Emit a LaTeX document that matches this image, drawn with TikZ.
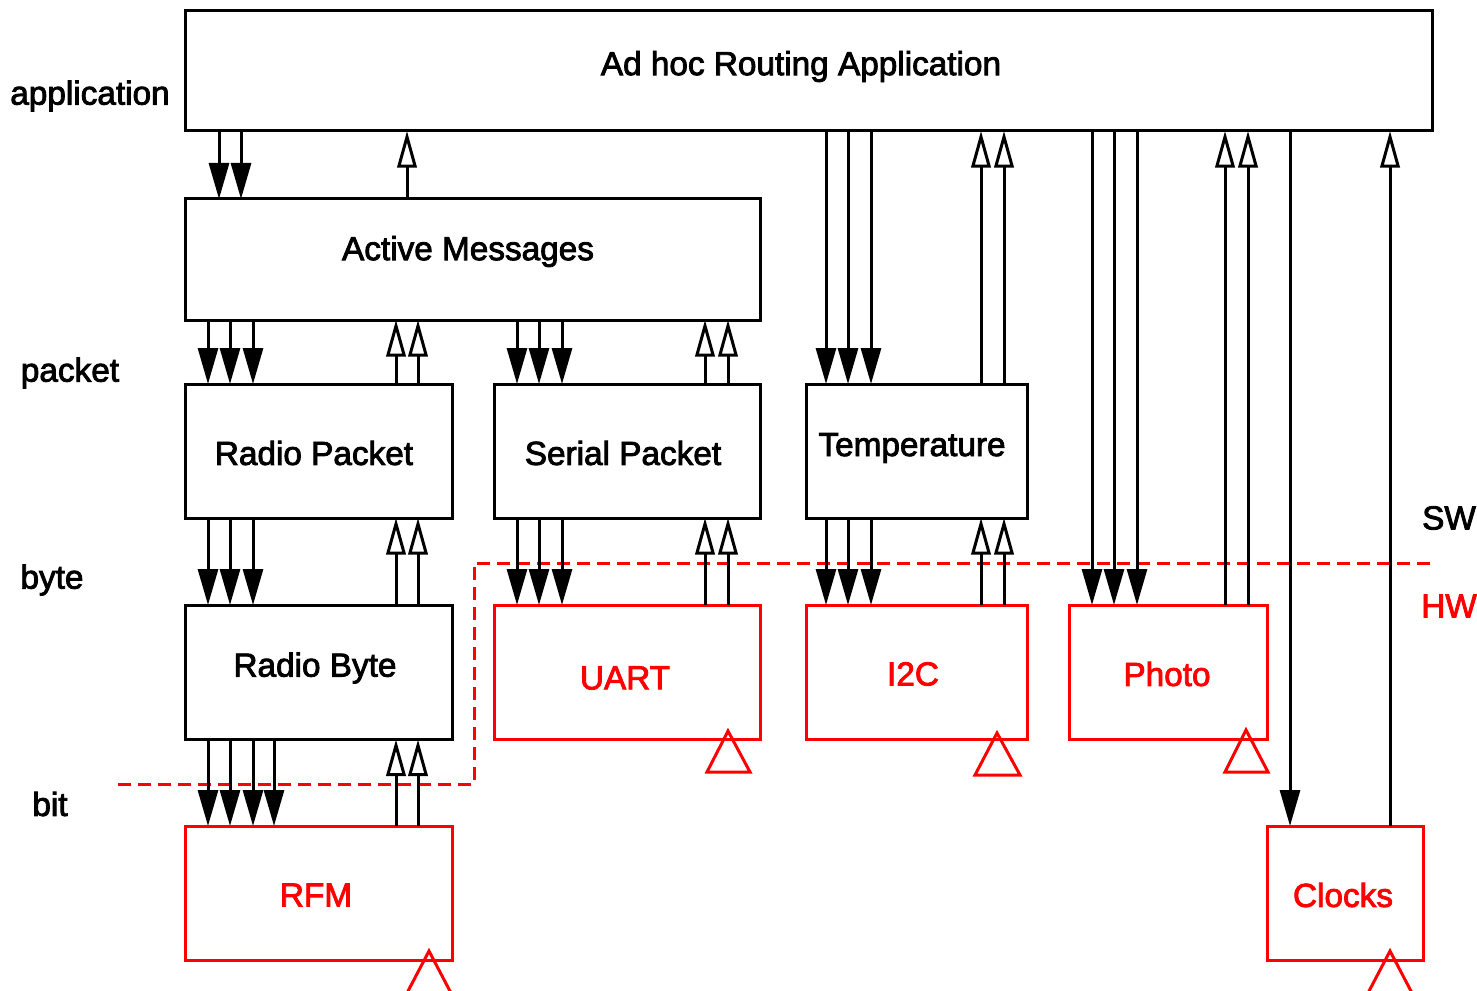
\documentclass[tikz,border=0pt]{standalone}
\usepackage{fontspec}
\setmainfont[FakeBold=2.5]{Liberation Sans}
\usetikzlibrary{arrows.meta,fit}
\definecolor{hwred}{RGB}{255,0,0}
\tikzset{
  x=0.75pt,y=-0.75pt,
  swbox/.style={draw=black,line width=2.25pt,inner sep=0pt,outer sep=0pt,rectangle},
  hwbox/.style={draw=hwred,line width=2.25pt,inner sep=0pt,outer sep=0pt,rectangle},
  swtext/.style={text=black,font=\fontsize{25pt}{28pt}\selectfont,inner sep=0pt},
  hwtext/.style={text=hwred,font=\fontsize{25pt}{28pt}\selectfont,inner sep=0pt},
  dnarrow/.style={draw=black,line width=2.25pt,-{Triangle[length=27pt,width=15pt,fill=black]}},
  uparrow/.style={draw=black,line width=2.25pt,-{Triangle[length=27.5pt,width=14.5pt,fill=white]}},
  clocktri/.style={draw=hwred,line width=2.25pt,line join=miter},
  hwline/.style={draw=hwred,line width=2.25pt,dash pattern=on 10pt off 5pt},
}
\newcommand{\dnlink}[3]{\foreach \xx in {#3} {\draw[dnarrow] (\xx,0 |- #1.south) -- (\xx,0 |- #2.north);}}
\newcommand{\uplink}[3]{\foreach \xx in {#3} {\draw[uparrow] (\xx,0 |- #1.north) -- (\xx,0 |- #2.south);}}
\begin{document}
\begin{tikzpicture}
\useasboundingbox[fill=white] (0,0) rectangle (1477,991);
% boxes
\node[swbox,fit={(185,11)(1432.5,131)}] (app) {};
\node[swbox,fit={(185,199)(760.5,320)}] (am) {};
\node[swbox,fit={(185,384)(452,518)}] (rp) {};
\node[swbox,fit={(494,384)(760.5,518)}] (sp) {};
\node[swbox,fit={(806,384)(1027.5,518)}] (temp) {};
\node[swbox,fit={(185,605)(452,739.5)}] (rb) {};
\node[hwbox,fit={(494,605)(760.5,739)}] (uart) {};
\node[hwbox,fit={(806,605)(1027.5,739)}] (i2c) {};
\node[hwbox,fit={(1069,605)(1267.5,739)}] (photo) {};
\node[hwbox,fit={(185,826)(452,960)}] (rfm) {};
\node[hwbox,fit={(1267,826)(1423.5,960)}] (clocks) {};
% labels
\node[swtext] (tapp) at (801,66.5) {Ad hoc Routing Application};
\node[swtext] (tam) at (468,251.5) {Active Messages};
\node[swtext] (trp) at (314,453) {Radio Packet};
\node[swtext] (tsp) at (623,453) {Serial Packet};
\node[swtext] (ttemp) at (912,448) {Temperature};
\node[swtext] (trb) at (315,668) {Radio Byte};
\node[hwtext] (tuart) at (625,678) {UART};
\node[hwtext] (ti2c) at (913,674) {I2C};
\node[hwtext] (tphoto) at (1167,674) {Photo};
\node[hwtext] (trfm) at (316,895) {RFM};
\node[hwtext] (tclocks) at (1343,895) {Clocks};
\node[swtext] (lapp) at (90,96) {application};
\node[swtext] (lpacket) at (70,373) {packet};
\node[swtext] (lbyte) at (52,580) {byte};
\node[swtext] (lbit) at (50,804) {bit};
\node[swtext] (lsw) at (1449,518) {SW};
\node[hwtext] (lhw) at (1449,606) {HW};
% boundary
\draw[hwline] (118,784) -- (474,784) -- (474,563) -- (1436,563);
% connectors
\dnlink{app}{am}{219,241}
\uplink{am}{app}{407}
\dnlink{am}{rp}{208,230,253}
\uplink{rp}{am}{396,418}
\dnlink{am}{sp}{517,539,562}
\uplink{sp}{am}{705,728}
\dnlink{app}{temp}{826,848,871}
\uplink{temp}{app}{981,1004}
\dnlink{rp}{rb}{208,230,253}
\uplink{rb}{rp}{396,418}
\dnlink{sp}{uart}{517,539,562}
\uplink{uart}{sp}{705,728}
\dnlink{temp}{i2c}{826,848,871}
\uplink{i2c}{temp}{981,1004}
\dnlink{app}{photo}{1092,1114,1137}
\uplink{photo}{app}{1225,1248}
\dnlink{app}{clocks}{1290}
\uplink{clocks}{app}{1390}
\dnlink{rb}{rfm}{208,230,253,274}
\uplink{rfm}{rb}{396,418}
% clock triangles
\draw[clocktri] (728,731) -- (750,772) -- (707,772) -- cycle;
\draw[clocktri] (997,733) -- (1020,775) -- (975,775) -- cycle;
\draw[clocktri] (1246,730) -- (1268,772) -- (1225,772) -- cycle;
\draw[clocktri] (429,951) -- (451,993) -- (407,993) -- cycle;
\draw[clocktri] (1390,951) -- (1412,993) -- (1368,993) -- cycle;
\end{tikzpicture}
\end{document}
